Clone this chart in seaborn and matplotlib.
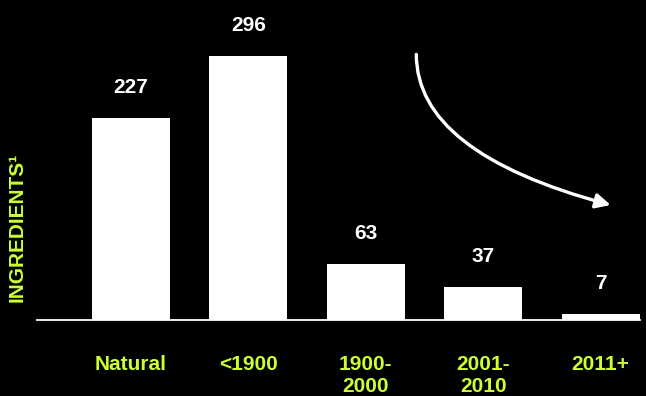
import matplotlib
matplotlib.use("Agg")
import matplotlib.pyplot as plt
import seaborn as sns
import pandas as pd

# Ingredient counts by era of discovery
categories = ["Natural", "<1900", "1900-\n2000", "2001-\n2010", "2011+"]
counts = [227, 296, 63, 37, 7]

LABEL_GREEN = "#CCFF33"
FONT_SIZE = 15

sns.set_theme(style="white")
plt.rcParams["font.family"] = ["Liberation Sans", "DejaVu Sans"]
plt.rcParams["font.weight"] = "bold"

df = pd.DataFrame({"era": categories, "count": counts})

fig = plt.figure(figsize=(6.46, 3.96), dpi=100, facecolor="black")
ax = fig.add_axes([37 / 646, 76 / 396, 603 / 646, 320 / 396])
ax.set_facecolor("black")

sns.barplot(data=df, x="era", y="count", color="white", saturation=1,
            width=0.665, edgecolor="none", linewidth=0, ax=ax)

ax.set_xlim(-0.8, 4.335)
ax.set_ylim(0, 359)

# value labels above each bar
for i, v in enumerate(counts):
    ax.annotate(f"{v}", xy=(i, v), xytext=(0, 22), textcoords="offset points",
                ha="center", va="center", color="white",
                fontsize=FONT_SIZE, fontweight="bold")

# axis styling
for side in ["left", "right", "top"]:
    ax.spines[side].set_visible(False)
ax.spines["bottom"].set_color("white")
ax.spines["bottom"].set_linewidth(1.3)
ax.set_yticks([])
ax.tick_params(axis="x", length=0, pad=25, colors=LABEL_GREEN,
               labelsize=FONT_SIZE)
for lbl in ax.get_xticklabels():
    lbl.set_fontweight("bold")
    lbl.set_linespacing(1.25)
ax.set_xlabel("")
ax.set_ylabel("INGREDIENTS¹", color=LABEL_GREEN, fontsize=FONT_SIZE,
              fontweight="bold")
ax.yaxis.set_label_coords(-0.018, 0.289)

# declining trend arrow
ax.annotate("", xy=(4.085, 129), xytext=(2.43, 298),
            arrowprops=dict(arrowstyle="-|>", color="white", lw=2.4,
                            mutation_scale=22, shrinkA=0, shrinkB=0,
                            connectionstyle="angle3,angleA=90,angleB=-15"),
            annotation_clip=False)

fig.savefig("out.png", dpi=100, facecolor="black")
